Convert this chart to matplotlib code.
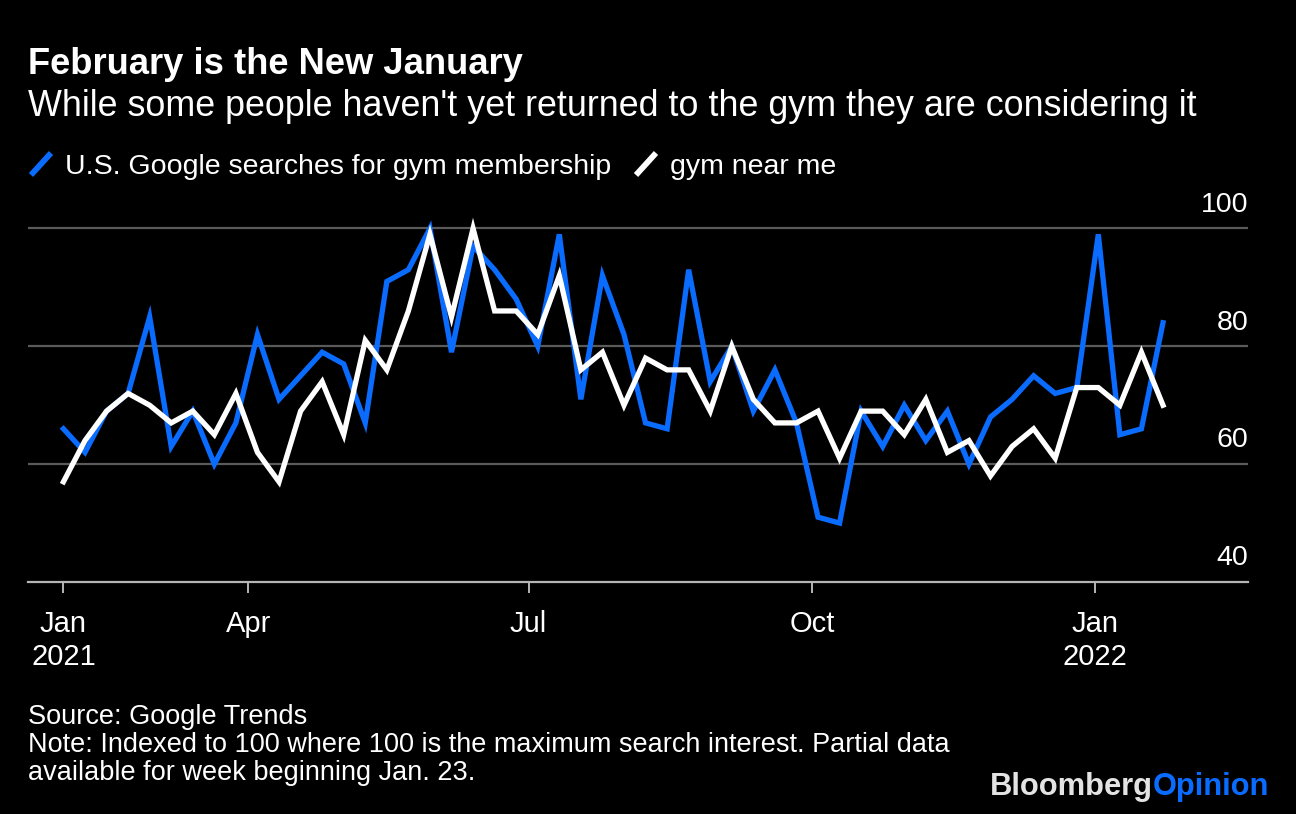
import matplotlib
matplotlib.use('Agg')
import matplotlib.pyplot as plt
import matplotlib.transforms as mtransforms
from matplotlib.lines import Line2D
import pandas as pd

# ---- data ----
start_date = '2021-01-31'
n_weeks = 52
gym_membership = [66, 62, 69, 72, 85, 63, 69, 60, 67, 82, 71, 75, 79,
                  77, 67, 91, 93, 100, 79, 97, 93, 88, 80, 99, 71, 92,
                  82, 67, 66, 93, 74, 80, 69, 76, 67, 51, 50, 69, 63,
                  70, 64, 69, 60, 68, 71, 75, 72, 73, 99, 65, 66, 84]
gym_near_me = [57, 64, 69, 72, 70, 67, 69, 65, 72, 62, 57, 69, 74,
               65, 81, 76, 86, 99, 85, 100, 86, 86, 82, 92, 76, 79,
               70, 78, 76, 76, 69, 80, 71, 67, 67, 69, 61, 69, 69,
               65, 71, 62, 64, 58, 63, 66, 61, 73, 73, 70, 79, 70]
tick_dates = ['2021-01-31', '2021-04-01', '2021-07-01', '2021-10-01', '2022-01-01']
tick_labels = ['Jan\n2021', 'Apr', 'Jul', 'Oct', 'Jan\n2022']
y_ticks = [40, 60, 80, 100]
series_names = ['U.S. Google searches for gym membership', 'gym near me']

dates = pd.date_range(start_date, periods=n_weeks, freq='7D')

BLUE = '#0A6CFF'
WHITE = '#FFFFFF'
FONT = 'Liberation Sans'
plt.rcParams['font.family'] = [FONT, 'DejaVu Sans']

W, H = 1296, 814
fig = plt.figure(figsize=(W / 100, H / 100), dpi=100, facecolor='black')


def fx(px):
    return px / W


def fy(py):
    return 1 - py / H


ax = fig.add_axes([fx(28), fy(582), fx(1248) - fx(28), fy(199) - fy(582)])
ax.set_facecolor('black')
ax.set_ylim(40, 105)
ax.set_xlim(dates[0] - pd.Timedelta(days=11.5), dates[-1] + pd.Timedelta(days=27.6))

for v in y_ticks[1:]:
    ax.axhline(v, color='#5a5a5a', lw=1.6, zorder=1)

ax.plot(dates, gym_membership, color=BLUE, lw=3.8, solid_joinstyle='miter', zorder=3)
ax.plot(dates, gym_near_me, color=WHITE, lw=3.8, solid_joinstyle='miter', zorder=4)

for s in ['top', 'right', 'left']:
    ax.spines[s].set_visible(False)
ax.spines['bottom'].set_color('#b5b5b5')
ax.spines['bottom'].set_linewidth(1.6)
ax.set_yticks([])
ax.set_xticks(pd.to_datetime(tick_dates))
ax.set_xticklabels(tick_labels, fontsize=21, color='white', linespacing=1.25)
ax.tick_params(axis='x', direction='out', length=8, width=1.4, color='#b5b5b5', pad=12)

trans = mtransforms.offset_copy(ax.get_yaxis_transform(), fig=fig, x=0, y=12, units='points')
for v in y_ticks:
    ax.text(1.0, v, str(v), transform=trans, ha='right', va='baseline',
            fontsize=20.5, color='white')

# ---- titles ----
fig.text(fx(28), fy(74), 'February is the New January', fontsize=26.2, fontweight='bold',
         color='white', ha='left', va='baseline')
fig.text(fx(28), fy(116), "While some people haven't yet returned to the gym they are considering it",
         fontsize=25.8, color='white', ha='left', va='baseline')

# ---- legend ----
fig.add_artist(Line2D([fx(31), fx(51)], [fy(175), fy(153)], color=BLUE, lw=4.2,
                      solid_capstyle='butt', transform=fig.transFigure))
fig.text(fx(65), fy(174), series_names[0], fontsize=20.5, color='white', ha='left', va='baseline')
fig.add_artist(Line2D([fx(636), fx(656)], [fy(175), fy(153)], color=WHITE, lw=4.2,
                      solid_capstyle='butt', transform=fig.transFigure))
fig.text(fx(670), fy(174), series_names[1], fontsize=20.5, color='white', ha='left', va='baseline')

# ---- footer ----
fig.text(fx(28), fy(724), 'Source: Google Trends', fontsize=19.5, color='white', ha='left', va='baseline')
fig.text(fx(28), fy(752), 'Note: Indexed to 100 where 100 is the maximum search interest. Partial data',
         fontsize=19.5, color='white', ha='left', va='baseline')
fig.text(fx(28), fy(780), 'available for week beginning Jan. 23.', fontsize=19.5, color='white',
         ha='left', va='baseline')

# ---- logo ----
t1 = fig.text(fx(990), fy(795), 'Bloomberg', fontsize=22.2, fontweight='bold', color='#e3e3e3',
              ha='left', va='baseline')
fig.canvas.draw()
bb = t1.get_window_extent()
fig.text(bb.x1 / W, fy(795), 'Opinion', fontsize=22.2, fontweight='bold', color=BLUE,
         ha='left', va='baseline')

fig.savefig('out.png', dpi=100, facecolor='black')
